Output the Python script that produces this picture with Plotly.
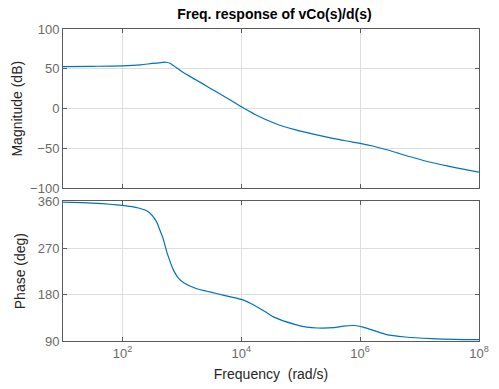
import plotly.graph_objects as go
from plotly.subplots import make_subplots

# Magnitude trace (frequency rad/s, dB)
mag_freq = [10, 31.6, 100, 200, 316, 447, 537, 631, 708, 794, 1072, 1778, 2630,
            3802, 6310, 10000, 17378, 37154, 79433, 169824, 363078, 630957,
            1000000, 1621810, 2818383, 4466836, 7943282, 15848932, 39810717, 100000000]
mag_db = [52.9, 53.2, 53.8, 55.0, 56.8, 57.9, 58.3, 57.0, 54.5, 52.0, 45.0, 35.7, 28.2,
          21.2, 11.5, 2.5, -7.5, -18.5, -26.3, -32.3, -37.5, -40.8,
          -43.5, -46.8, -51.5, -56.0, -61.5, -67.5, -73.8, -79.5]

# Phase trace (frequency rad/s, deg)
ph_freq = [10, 31.6, 100, 186, 269, 372, 417, 479, 575, 741, 891, 1072, 1778, 2630,
           3802, 6310, 10000, 17378, 25119, 37154, 79433, 125893, 190546, 363078, 524807,
           794328, 1122018, 2691535, 5754399, 15848932, 39810717, 100000000]
ph_deg = [359.4, 357.5, 353.0, 347.8, 341.0, 322.0, 308.0, 290.0, 258.0, 225.0, 211.0, 203.0,
          191.2, 186.5, 182.1, 176.1, 170.6, 158.0, 147.0, 135.3, 122.3, 117.0, 115.2, 116.0,
          118.8, 120.0, 117.0, 103.0, 97.8, 94.6, 93.2, 92.7]

x_tickvals = [1e2, 1e4, 1e6, 1e8]
x_ticktext = ["10<sup>2</sup>", "10<sup>4</sup>", "10<sup>6</sup>", "10<sup>8</sup>"]
mag_ticks = [-100, -50, 0, 50, 100]
ph_ticks = [90, 180, 270, 360]

LINE = "#0072BD"
AX = "#5a5a5a"
GRID = "#dedede"
FAM = "Liberation Sans, Arial, sans-serif"
TICKF = dict(family=FAM, size=13, color="#6a6a6a")
TITF = dict(family=FAM, size=14, color="#262626")

fig = make_subplots(rows=2, cols=1, shared_xaxes=False, vertical_spacing=0.0)

fig.add_trace(go.Scatter(x=mag_freq, y=mag_db, mode="lines",
                         line=dict(color=LINE, width=1.2, shape="spline", smoothing=0.8),
                         showlegend=False), row=1, col=1)
fig.add_trace(go.Scatter(x=ph_freq, y=ph_deg, mode="lines",
                         line=dict(color=LINE, width=1.2, shape="spline", smoothing=0.8),
                         showlegend=False), row=2, col=1)

common_x = dict(type="log", range=[1, 8], showline=True, linecolor=AX, linewidth=1,
                mirror="ticks", ticks="inside", ticklen=4, tickcolor=AX,
                showgrid=True, gridcolor=GRID, gridwidth=1, zeroline=False,
                tickvals=x_tickvals, tickfont=TICKF)
fig.update_layout(
    xaxis=dict(common_x, domain=[0, 1], showticklabels=False, anchor="y"),
    xaxis2=dict(common_x, domain=[0, 1], ticktext=x_ticktext, anchor="y2",
                title=dict(text="Frequency  (rad/s)", font=TITF, standoff=9)),
    yaxis=dict(domain=[0.489, 1.0], range=[-100, 100], tickvals=mag_ticks,
               showline=True, linecolor=AX, linewidth=1, mirror="ticks", ticks="inside",
               ticklen=4, tickcolor=AX, showgrid=True, gridcolor=GRID, zeroline=False,
               tickfont=TICKF, title=dict(text="Magnitude (dB)", font=TITF, standoff=4)),
    yaxis2=dict(domain=[0.0, 0.448], range=[90, 361], tickvals=ph_ticks,
                showline=True, linecolor=AX, linewidth=1, mirror="ticks", ticks="inside",
                ticklen=4, tickcolor=AX, showgrid=True, gridcolor=GRID, zeroline=False,
                tickfont=TICKF, title=dict(text="Phase (deg)", font=TITF, standoff=8)),
    title=dict(text="<b>Freq. response of vCo(s)/d(s)</b>", x=0.55, xanchor="center",
               y=0.965, yanchor="middle", font=dict(family=FAM, size=14, color="#000000")),
    width=499, height=389,
    margin=dict(l=63, r=10, t=29, b=47),
    paper_bgcolor="white", plot_bgcolor="white",
)

fig.write_html("out.html")
